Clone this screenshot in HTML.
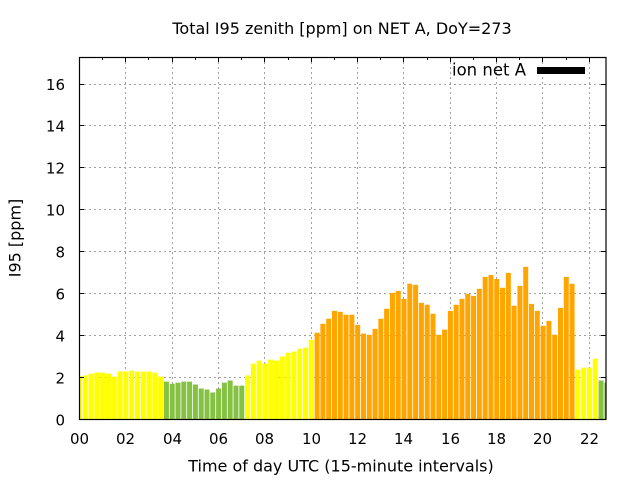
<!DOCTYPE html>
<html><head><meta charset="utf-8"><style>
html,body{margin:0;padding:0;background:#fff;}
svg{display:block;}
text{font-family:"DejaVu Sans","Liberation Sans",sans-serif;fill:#000;}
</style></head><body>
<svg width="640" height="480" viewBox="0 0 640 480" xmlns="http://www.w3.org/2000/svg">
<rect x="0" y="0" width="640" height="480" fill="#fff"/>
<path stroke="#a0a0a0" stroke-width="1" stroke-dasharray="2,3" fill="none" d="M79,377.5H606M79,335.5H606M79,293.5H606M79,251.5H606M79,209.5H606M79,167.5H606M79,125.5H606M79,84.5H606M125.5,57V419M172.5,57V419M218.5,57V419M264.5,57V419M311.5,57V419M357.5,57V419M403.5,57V419M450.5,57V419M496.5,57V419M542.5,57V419M589.5,57V419"/>
<svg x="79" y="57" width="527" height="362.5" overflow="hidden">
<g transform="translate(0.5,362.5) scale(5.795,-20.94)">
<path fill="#ffff00" d="M-.431,0h.863v2.08h-.863z M.569,0h.863v2.10h-.863z M1.569,0h.863v2.19h-.863z M2.569,0h.863v2.24h-.863z M3.569,0h.863v2.24h-.863z M4.569,0h.863v2.19h-.863z M5.569,0h.863v2.05h-.863z M6.569,0h.863v2.29h-.863z M7.569,0h.863v2.29h-.863z M8.569,0h.863v2.33h-.863z M9.569,0h.863v2.29h-.863z M10.569,0h.863v2.29h-.863z M11.569,0h.863v2.29h-.863z M12.569,0h.863v2.24h-.863z M13.569,0h.863v2.05h-.863z M28.569,0h.863v2.10h-.863z M29.569,0h.863v2.67h-.863z M30.569,0h.863v2.81h-.863z M31.569,0h.863v2.67h-.863z M32.569,0h.863v2.86h-.863z M33.569,0h.863v2.81h-.863z M34.569,0h.863v3.00h-.863z M35.569,0h.863v3.19h-.863z M36.569,0h.863v3.24h-.863z M37.569,0h.863v3.38h-.863z M38.569,0h.863v3.43h-.863z M39.569,0h.863v3.81h-.863z M85.569,0h.863v2.38h-.863z M86.569,0h.863v2.48h-.863z M87.569,0h.863v2.48h-.863z M88.569,0h.863v2.90h-.863z"/>
<path fill="#85c143" d="M14.569,0h.863v1.81h-.863z M15.569,0h.863v1.71h-.863z M16.569,0h.863v1.76h-.863z M17.569,0h.863v1.81h-.863z M18.569,0h.863v1.81h-.863z M19.569,0h.863v1.67h-.863z M20.569,0h.863v1.48h-.863z M21.569,0h.863v1.43h-.863z M22.569,0h.863v1.29h-.863z M23.569,0h.863v1.48h-.863z M24.569,0h.863v1.76h-.863z M25.569,0h.863v1.86h-.863z M26.569,0h.863v1.62h-.863z M27.569,0h.863v1.62h-.863z M89.569,0h.863v1.86h-.863z M90.569,0h.863v1.76h-.863z"/>
<path fill="#ffa500" d="M40.569,0h.863v4.14h-.863z M41.569,0h.863v4.57h-.863z M42.569,0h.863v4.81h-.863z M43.569,0h.863v5.19h-.863z M44.569,0h.863v5.14h-.863z M45.569,0h.863v5.00h-.863z M46.569,0h.863v5.00h-.863z M47.569,0h.863v4.52h-.863z M48.569,0h.863v4.10h-.863z M49.569,0h.863v4.05h-.863z M50.569,0h.863v4.33h-.863z M51.569,0h.863v4.81h-.863z M52.569,0h.863v5.29h-.863z M53.569,0h.863v6.05h-.863z M54.569,0h.863v6.14h-.863z M55.569,0h.863v5.76h-.863z M56.569,0h.863v6.48h-.863z M57.569,0h.863v6.43h-.863z M58.569,0h.863v5.57h-.863z M59.569,0h.863v5.48h-.863z M60.569,0h.863v5.05h-.863z M61.569,0h.863v4.05h-.863z M62.569,0h.863v4.29h-.863z M63.569,0h.863v5.19h-.863z M64.569,0h.863v5.48h-.863z M65.569,0h.863v5.76h-.863z M66.569,0h.863v6.00h-.863z M67.569,0h.863v5.90h-.863z M68.569,0h.863v6.24h-.863z M69.569,0h.863v6.81h-.863z M70.569,0h.863v6.90h-.863z M71.569,0h.863v6.71h-.863z M72.569,0h.863v6.29h-.863z M73.569,0h.863v7.00h-.863z M74.569,0h.863v5.43h-.863z M75.569,0h.863v6.38h-.863z M76.569,0h.863v7.29h-.863z M77.569,0h.863v5.52h-.863z M78.569,0h.863v5.19h-.863z M79.569,0h.863v4.48h-.863z M80.569,0h.863v4.71h-.863z M81.569,0h.863v4.05h-.863z M82.569,0h.863v5.33h-.863z M83.569,0h.863v6.81h-.863z M84.569,0h.863v6.48h-.863z"/>
</g>
</svg>
<path stroke="#000" stroke-width="1" fill="none" d="M79,377.5h5M79,335.5h5M79,293.5h5M79,251.5h5M79,209.5h5M79,167.5h5M79,125.5h5M79,84.5h5M606,377.5h-5M606,335.5h-5M606,293.5h-5M606,251.5h-5M606,209.5h-5M606,167.5h-5M606,125.5h-5M606,84.5h-5M125.5,57v5M172.5,57v5M218.5,57v5M264.5,57v5M311.5,57v5M357.5,57v5M403.5,57v5M450.5,57v5M496.5,57v5M542.5,57v5M589.5,57v5M102.5,57v3M148.5,57v3M195.5,57v3M241.5,57v3M288.5,57v3M334.5,57v3M380.5,57v3M427.5,57v3M473.5,57v3M519.5,57v3M566.5,57v3"/>
<rect x="79.5" y="57.5" width="526.5" height="362" fill="none" stroke="#000" stroke-width="1.2"/>
<g font-size="15" text-anchor="end">
<text x="65" y="425.5">0</text>
<text x="65" y="383.5">2</text>
<text x="65" y="341.5">4</text>
<text x="65" y="299.5">6</text>
<text x="65" y="257.5">8</text>
<text x="65" y="215.5">10</text>
<text x="65" y="173.5">12</text>
<text x="65" y="131.5">14</text>
<text x="65" y="90">16</text>
</g>
<g font-size="15" text-anchor="middle">
<text x="79.5" y="444">00</text>
<text x="125.5" y="444">02</text>
<text x="172.5" y="444">04</text>
<text x="218.5" y="444">06</text>
<text x="264.5" y="444">08</text>
<text x="311.5" y="444">10</text>
<text x="357.5" y="444">12</text>
<text x="403.5" y="444">14</text>
<text x="450.5" y="444">16</text>
<text x="496.5" y="444">18</text>
<text x="542.5" y="444">20</text>
<text x="589.5" y="444">22</text>
</g>
<text x="342" y="34" font-size="16" text-anchor="middle">Total I95 zenith [ppm] on NET A, DoY=273</text>
<text x="341" y="471.5" font-size="16" text-anchor="middle">Time of day UTC (15-minute intervals)</text>
<text transform="translate(20.5,238) rotate(-90)" font-size="16" text-anchor="middle">I95 [ppm]</text>
<text x="526" y="75.5" font-size="16.5" text-anchor="end">ion net A</text>
<rect x="537" y="67" width="48" height="7" fill="#000"/>
</svg>
</body></html>
